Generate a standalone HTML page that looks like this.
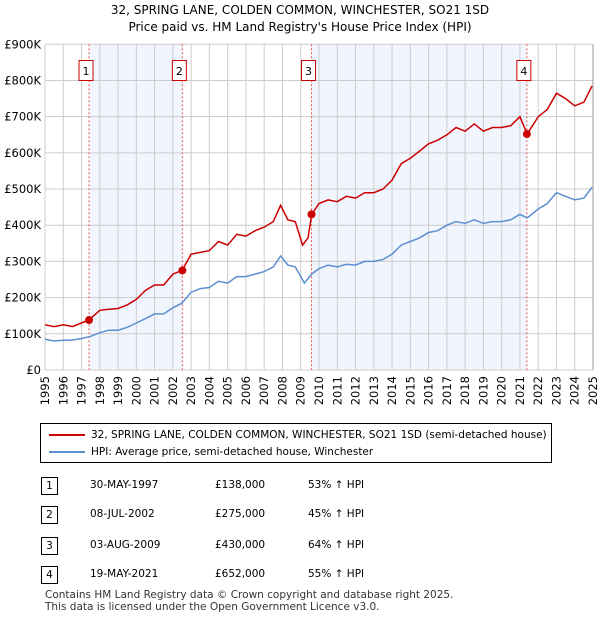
<!DOCTYPE html>
<html><head><meta charset="utf-8"><style>
body{margin:0;background:#fff;font-family:"DejaVu Sans","Liberation Sans",sans-serif;}
#wrap{position:relative;width:600px;height:620px;overflow:hidden}
.t{position:absolute;font-size:12px;color:#000;white-space:nowrap}
</style></head><body><div id="wrap">
<div class="t" style="left:0;width:600px;text-align:center;top:2px;font-size:12px;line-height:17px">32, SPRING LANE, COLDEN COMMON, WINCHESTER, SO21 1SD<br>Price paid vs. HM Land Registry's House Price Index (HPI)</div>
<svg id="chart" width="600" height="420" style="position:absolute;left:0;top:0"></svg>
<div style="position:absolute;left:40px;top:423px;width:510px;height:38px;border:1px solid #000;font-size:10.5px">
<div style="position:absolute;left:8px;top:5px;white-space:nowrap"><span style="display:inline-block;width:36px;border-top:2px solid #cc0000;vertical-align:middle;margin-right:6px"></span>32, SPRING LANE, COLDEN COMMON, WINCHESTER, SO21 1SD (semi-detached house)</div>
<div style="position:absolute;left:8px;top:22px;white-space:nowrap"><span style="display:inline-block;width:36px;border-top:2px solid #5b8fd0;vertical-align:middle;margin-right:6px"></span>HPI: Average price, semi-detached house, Winchester</div>
</div>
<div id="tbl"></div>
<div class="t" style="left:45px;top:589px;font-size:10.5px;color:#333;line-height:12px">Contains HM Land Registry data © Crown copyright and database right 2025.<br>This data is licensed under the Open Government Licence v3.0.</div>
</div>
<script>
const hpiYears=[1995,1995.5,1996,1996.5,1997,1997.5,1998,1998.5,1999,1999.5,2000,2000.5,2001,2001.5,2002,2002.5,2003,2003.5,2004,2004.5,2005,2005.5,2006,2006.5,2007,2007.5,2007.9,2008.3,2008.7,2009.2,2009.6,2010,2010.5,2011,2011.5,2012,2012.5,2013,2013.5,2014,2014.5,2015,2015.5,2016,2016.5,2017,2017.5,2018,2018.5,2019,2019.5,2020,2020.5,2021,2021.4,2022,2022.5,2023,2023.5,2024,2024.5,2024.95];
const hpiValues=[85,80,82,83,87,93,103,110,110,118,130,142,155,155,172,185,215,225,228,245,240,258,258,265,272,285,315,290,285,240,265,280,290,285,292,290,300,300,305,320,345,355,365,380,385,400,410,405,415,405,410,410,415,430,420,445,460,490,480,470,475,505];
const ppYears=[1995,1995.5,1996,1996.5,1997,1997.4,1998,1998.5,1999,1999.5,2000,2000.5,2001,2001.5,2002,2002.5,2003,2003.5,2004,2004.5,2005,2005.5,2006,2006.5,2007,2007.5,2007.9,2008.3,2008.7,2009.1,2009.4,2009.6,2010,2010.5,2011,2011.5,2012,2012.5,2013,2013.5,2014,2014.5,2015,2015.5,2016,2016.5,2017,2017.5,2018,2018.5,2019,2019.5,2020,2020.5,2021,2021.4,2022,2022.5,2023,2023.5,2024,2024.5,2024.95];
const ppValues=[125,120,125,120,130,138,165,168,170,180,195,220,235,235,265,275,320,325,330,355,345,375,370,385,395,410,455,415,410,345,365,430,460,470,465,480,475,490,490,500,525,570,585,605,625,635,650,670,660,680,660,670,670,675,700,652,700,720,765,750,730,740,785];
const saleLabels=["1","2","3","4"];
const saleYears=[1997.41,2002.52,2009.59,2021.38];
const salePrices=[138,275,430,652];
const saleDates=["30-MAY-1997","08-JUL-2002","03-AUG-2009","19-MAY-2021"];
const salePriceText=["£138,000","£275,000","£430,000","£652,000"];
const saleHpi=["53% ↑ HPI","45% ↑ HPI","64% ↑ HPI","55% ↑ HPI"];
const yTicks=[0,100,200,300,400,500,600,700,800,900];
const yTickLabels=["£0","£100K","£200K","£300K","£400K","£500K","£600K","£700K","£800K","£900K"];
const xTicks=[1995,1996,1997,1998,1999,2000,2001,2002,2003,2004,2005,2006,2007,2008,2009,2010,2011,2012,2013,2014,2015,2016,2017,2018,2019,2020,2021,2022,2023,2024,2025];

const X0=45,X1=593,Y0=370,Y1=44.3;
const FF='DejaVu Sans, sans-serif';
const sx=y=>X0+(y-1995)/30*(X1-X0);
const sy=v=>Y0-v/900*(Y0-Y1);
const NS="http://www.w3.org/2000/svg";
const svg=document.getElementById('chart');
function mk(tag,attrs,parent){const e=document.createElementNS(NS,tag);for(const k in attrs)e.setAttribute(k,attrs[k]);(parent||svg).appendChild(e);return e;}
[[0,1],[2,3]].forEach(p=>{
 const r=mk('rect',{x:sx(saleYears[p[0]]),y:Y1,width:sx(saleYears[p[1]])-sx(saleYears[p[0]]),height:Y0-Y1,fill:'#eef3fc',opacity:0.8});
 
 
});
xTicks.forEach((t,i)=>{
 const l=mk('line',{x1:sx(t),x2:sx(t),y1:Y1,y2:Y0,stroke:'#cccccc','stroke-width':1});
 
 
 const tx=mk('text',{x:0,y:0,transform:`translate(${sx(t)+4},${Y0+6}) rotate(-90)`,'text-anchor':'end','font-size':11.5,fill:'#000','font-family':FF});
 tx.textContent=t;
 
 
});
yTicks.forEach((t,i)=>{
 const l=mk('line',{x1:X0,x2:X1,y1:sy(t),y2:sy(t),stroke:'#cccccc','stroke-width':1});
 
 
 const tx=mk('text',{x:X0-4,y:sy(t)+4,'text-anchor':'end','font-size':11.5,fill:'#000','font-family':FF});
 tx.textContent=yTickLabels[i];
 
 
});
saleYears.forEach((y,i)=>{
 const l=mk('line',{x1:sx(y),x2:sx(y),y1:Y1,y2:Y0,stroke:'#ee5555','stroke-width':1,'stroke-dasharray':'2,2'});
 
 
 const g=mk('g',{});
 
 
 mk('rect',{x:sx(y)-10,y:60.5,width:14,height:20,fill:'#fff',stroke:'#cc0000','stroke-width':1},g);
 const tx=mk('text',{x:sx(y)-3,y:75,'text-anchor':'middle','font-size':11,fill:'#000','font-family':FF},g);
 tx.textContent=saleLabels[i];
});
const hp=mk('path',{d:hpiYears.map((y,i)=>(i?'L':'M')+sx(y).toFixed(1)+','+sy(hpiValues[i]).toFixed(1)).join(''),fill:'none',stroke:'#5b8fd0','stroke-width':1.5});


const pp=mk('path',{d:ppYears.map((y,i)=>(i?'L':'M')+sx(y).toFixed(1)+','+sy(ppValues[i]).toFixed(1)).join(''),fill:'none',stroke:'#cc0000','stroke-width':1.5});


saleYears.forEach((y,i)=>{
 const c=mk('circle',{cx:sx(y),cy:sy(salePrices[i]),r:4,fill:'#cc0000'});
 
 
});
mk('line',{x1:X1,x2:X1,y1:Y1,y2:Y0,stroke:'#999','stroke-width':1});
const tbl=document.getElementById('tbl');
const rowY=[477,506,537,566];
saleLabels.forEach((s,i)=>{
 const row=document.createElement('div');
 
 
 row.style.cssText=`position:absolute;left:0;top:${rowY[i]}px;width:600px;height:18px;font-size:10.5px;white-space:nowrap`;
 row.innerHTML=`<span style="position:absolute;left:41px;top:0;width:15px;height:16px;border:1px solid #000;text-align:center;line-height:16px">${s}</span><span style="position:absolute;left:90px;top:2px">${saleDates[i]}</span><span style="position:absolute;left:215px;top:2px">${salePriceText[i]}</span><span style="position:absolute;left:308px;top:2px">${saleHpi[i]}</span>`;
 tbl.appendChild(row);
});
</script></body></html>
